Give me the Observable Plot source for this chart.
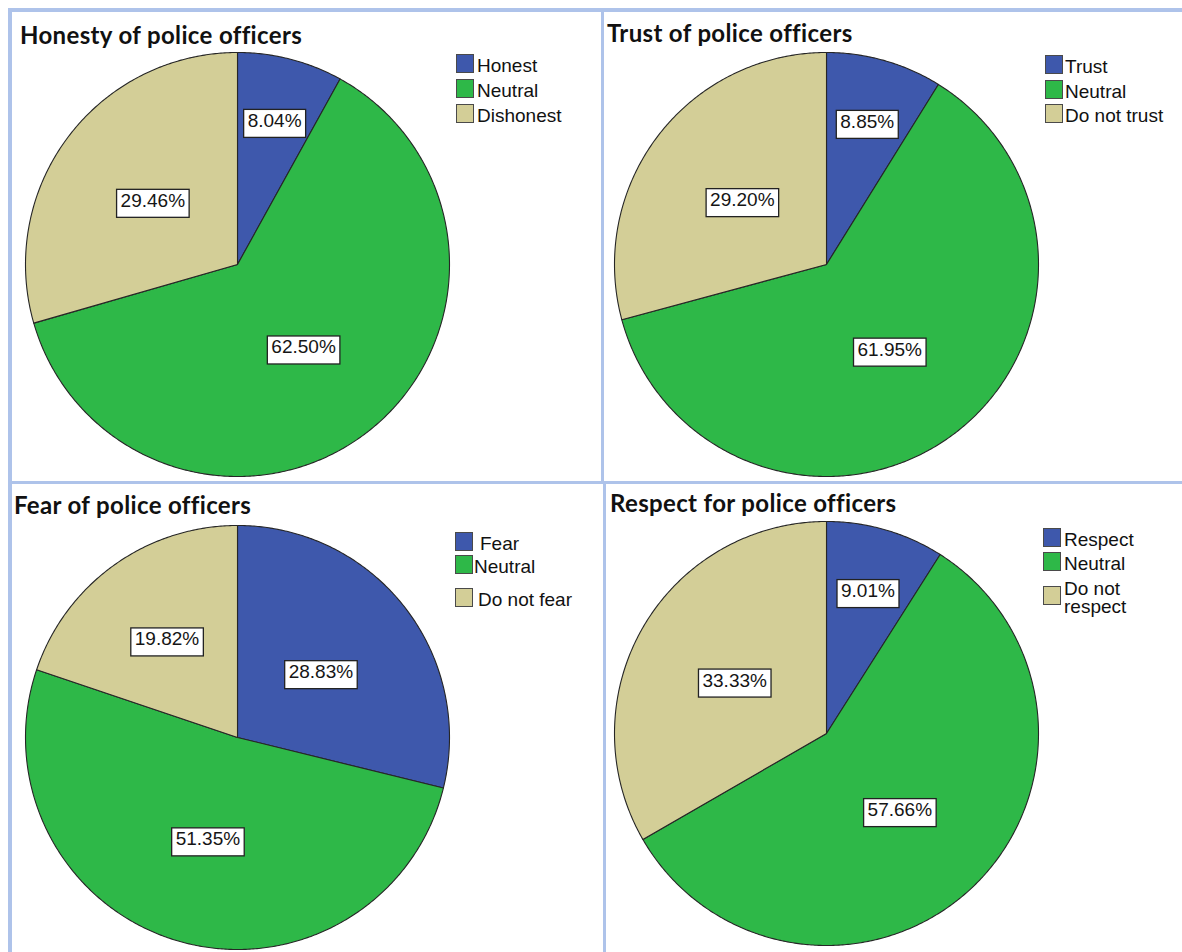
<!DOCTYPE html>
<html><head><meta charset="utf-8">
<script src="https://cdn.jsdelivr.net/npm/d3@7"></script>
<script src="https://cdn.jsdelivr.net/npm/@observablehq/plot@0.6"></script>
<style>
body{margin:0;background:#fff;}
#page{position:relative;width:1182px;height:952px;overflow:hidden;background:#fff;}
.bar{position:absolute;background:#aec3ea;}
.panel{position:absolute;}
.title{position:absolute;font-family:Lato,"Open Sans",sans-serif;font-weight:bold;font-size:24px;line-height:24px;letter-spacing:0.35px;color:#111;white-space:nowrap;}
.leg{position:absolute;font-family:"Liberation Sans",Arial,sans-serif;font-size:19px;line-height:17px;color:#111;white-space:pre;}
.sw{position:absolute;width:18px;height:19px;box-sizing:border-box;border:1px solid #4a4a4a;}
</style></head><body><div id="page"></div>
<script>
// ---- data ----
const titles = ["Honesty of police officers", "Trust of police officers", "Fear of police officers", "Respect for police officers"];
const honestyCats = ["Honest", "Neutral", "Dishonest"];
const trustCats = ["Trust", "Neutral", "Do not trust"];
const fearCats = ["Fear", "Neutral", "Do not fear"];
const respectCats = ["Respect", "Neutral", "Do not\nrespect"];
const honestyValues = [8.04, 62.50, 29.46];
const trustValues = [8.85, 61.95, 29.20];
const fearValues = [28.83, 51.35, 19.82];
const respectValues = [9.01, 57.66, 33.33];
const sliceColors = ["#3e58ac", "#2eb848", "#d3ce97"];

const charts = [
  {title: titles[0], cats: honestyCats, values: honestyValues},
  {title: titles[1], cats: trustCats, values: trustValues},
  {title: titles[2], cats: fearCats, values: fearValues},
  {title: titles[3], cats: respectCats, values: respectValues}
];

// ---- layout (page pixels) ----
const layout = [
  {left: 12, top: 12, w: 589, h: 469, cx: 237, cy: 264, r: 212, tx: 20, tb: 43,
   lx: 456, ltx: 477, lb: [72, 97, 122], lsx: [0, 0, 0]},
  {left: 604, top: 12, w: 578, h: 469, cx: 826, cy: 264, r: 212, tx: 607, tb: 41,
   lx: 1045, ltx: 1065, lb: [73, 97.5, 122], lsx: [0, 0, 0]},
  {left: 12, top: 484, w: 591, h: 468, cx: 237, cy: 737, r: 212, tx: 14, tb: 513,
   lx: 455, ltx: 474, lb: [550, 573, 606], lsx: [6, 0, 4]},
  {left: 606, top: 484, w: 576, h: 468, cx: 826, cy: 733, r: 212, tx: 610, tb: 511,
   lx: 1043, ltx: 1064, lb: [546, 570, 596], lsx: [0, 0, 0]}
];

const page = document.getElementById("page");
function bar(l, t, w, h) {
  const d = document.createElement("div");
  d.className = "bar";
  Object.assign(d.style, {left: l + "px", top: t + "px", width: w + "px", height: h + "px"});
  page.appendChild(d);
}
bar(8, 8, 1174, 4);
bar(8, 8, 4, 944);
bar(601, 8, 3, 474);
bar(603, 481, 3, 471);
bar(8, 481, 1174, 3);

charts.forEach((c, i) => {
  const L = layout[i];
  const total = d3.sum(c.values);
  const arcs = d3.pie().sort(null).value(d => d)(c.values);
  const pts = [];
  const labels = [];
  arcs.forEach((a, k) => {
    const n = Math.max(2, Math.ceil((a.endAngle - a.startAngle) / (Math.PI / 360)));
    pts.push({k, x: 0, y: 0});
    for (let j = 0; j <= n; j++) {
      const ang = a.startAngle + (a.endAngle - a.startAngle) * j / n;
      pts.push({k, x: Math.sin(ang), y: Math.cos(ang)});
    }
    const frac = a.value / total;
    const rf = frac < 0.15 ? 0.7 : frac < 0.25 ? 0.57 : 0.5;
    const mid = (a.startAngle + a.endAngle) / 2;
    labels.push({x: rf * Math.sin(mid), y: rf * Math.cos(mid), t: a.value.toFixed(2) + "%"});
  });
  const cx = L.cx - L.left, cy = L.cy - L.top;
  const plot = Plot.plot({
    width: L.w, height: L.h, margin: 0,
    x: {domain: [-1, 1], range: [cx - L.r, cx + L.r], axis: null},
    y: {domain: [-1, 1], range: [cy + L.r, cy - L.r], axis: null},
    color: {type: "ordinal", domain: [0, 1, 2], range: sliceColors},
    style: {background: "transparent", overflow: "visible"},
    marks: [
      Plot.line(pts, {x: "x", y: "y", z: "k", fill: "k", stroke: "#262626", strokeWidth: 1.1, curve: "linear-closed"}),
      Plot.text(labels, {x: "x", y: "y", text: "t", fontSize: 19, fontFamily: "Liberation Sans, Arial, sans-serif", fill: "#151515"})
    ]
  });
  const wrap = document.createElement("div");
  wrap.className = "panel";
  Object.assign(wrap.style, {left: L.left + "px", top: L.top + "px", width: L.w + "px", height: L.h + "px"});
  wrap.appendChild(plot);
  page.appendChild(wrap);
  // white boxes behind the percentage labels
  plot.querySelectorAll('g[aria-label="text"] text').forEach(t => {
    const b = t.getBBox();
    const rect = document.createElementNS("http://www.w3.org/2000/svg", "rect");
    rect.setAttribute("x", b.x - 4);
    rect.setAttribute("y", b.y - 0.5);
    rect.setAttribute("width", b.width + 8);
    rect.setAttribute("height", b.height + 7);
    rect.setAttribute("fill", "#fff");
    rect.setAttribute("stroke", "#222");
    rect.setAttribute("stroke-width", "1.3");
    if (t.getAttribute("transform")) rect.setAttribute("transform", t.getAttribute("transform"));
    t.parentNode.insertBefore(rect, t);
  });

  // title
  const ti = document.createElement("div");
  ti.className = "title";
  ti.textContent = c.title;
  Object.assign(ti.style, {left: L.tx + "px", top: (L.tb - 20.5) + "px"});
  page.appendChild(ti);

  // legend
  c.cats.forEach((name, k) => {
    const multi = name.includes("\n");
    const base = L.lb[k];
    const sw = document.createElement("div");
    sw.className = "sw";
    sw.style.background = sliceColors[k];
    const swBottom = multi ? base + 9 : base + 1;
    Object.assign(sw.style, {left: L.lx + "px", top: (swBottom - 19) + "px"});
    page.appendChild(sw);
    const t = document.createElement("div");
    t.className = "leg";
    t.textContent = name;
    if (multi) {
      t.style.lineHeight = "18px";
      Object.assign(t.style, {left: (L.ltx + L.lsx[k]) + "px", top: (base - 15.6) + "px"});
    } else {
      Object.assign(t.style, {left: (L.ltx + L.lsx[k]) + "px", top: (base - 15) + "px"});
    }
    page.appendChild(t);
  });
});
</script>
</body></html>
